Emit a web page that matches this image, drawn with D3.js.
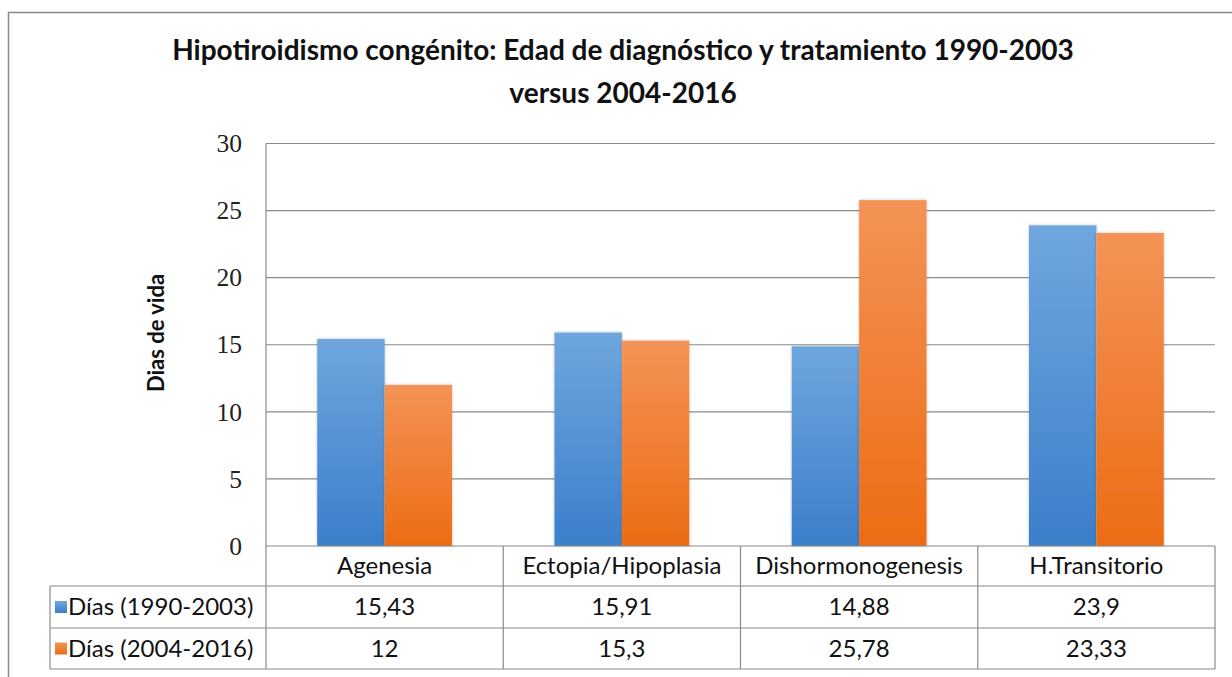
<!DOCTYPE html>
<html>
<head>
<meta charset="utf-8">
<script src="https://cdn.jsdelivr.net/npm/d3@7"></script>
<style>
body{margin:0;background:#fff;}
svg{display:block;font-family:Lato,"Open Sans",sans-serif;}
</style>
</head>
<body>
<svg id="chart" width="1232" height="677"></svg>
<script>
// data
const categories=["Agenesia","Ectopia/Hipoplasia","Dishormonogenesis","H.Transitorio"];
const seriesNames=["Días (1990-2003)","Días (2004-2016)"];
const dias1990=[15.43,15.91,14.88,23.9];
const dias2004=[12,15.3,25.78,23.33];
const yTicks=[0,5,10,15,20,25,30];
const titleLines=["Hipotiroidismo congénito: Edad de diagnóstico y tratamiento 1990-2003","versus 2004-2016"];

const svg=d3.select("#chart");
const W=1232,H=677;
const pLeft=266,pRight=1215,pTop=143.5,pBottom=546;
const rowH=[40,42,41];
const legLeft=50;

function fmt(v){return String(v).replace(".",",");}

// outer frame (cut by the picture edge)
svg.append("rect").attr("x",8.5).attr("y",12.5).attr("width",W).attr("height",H)
  .attr("fill","#fff").attr("stroke","#8c8c8c").attr("stroke-width",1.5);

const defs=svg.append("defs");
const grads=[["g0","#6fa6de","#3b7fca"],["g1","#f49356","#ec6c14"]];
grads.forEach(function(g){
  let lg=defs.append("linearGradient").attr("id",g[0]).attr("x1",0).attr("y1",0).attr("x2",0).attr("y2",1);
  lg.append("stop").attr("offset","0%").attr("stop-color",g[1]);
  lg.append("stop").attr("offset","100%").attr("stop-color",g[2]);
});
const f=defs.append("filter").attr("id","sh").attr("x","-10%").attr("y","-10%").attr("width","120%").attr("height","120%");
f.append("feDropShadow").attr("dx",0).attr("dy",0).attr("stdDeviation",1.5).attr("flood-color","#000").attr("flood-opacity",0.25);

const x=d3.scaleBand().domain(categories).range([pLeft,pRight]).paddingInner(0).paddingOuter(0);
const y=d3.scaleLinear().domain([0,30]).range([pBottom,pTop]);
const barW=67.4;

// gridlines
svg.append("g").selectAll("line").data(yTicks.filter(d=>d>0)).enter().append("line")
  .attr("x1",pLeft).attr("x2",pRight).attr("y1",d=>y(d)).attr("y2",d=>y(d))
  .attr("stroke","#8a8a8a").attr("stroke-width",1.2);

// y axis labels
const yAxis=d3.axisLeft(y).tickValues(yTicks).tickSize(0).tickPadding(24);
const ya=svg.append("g").attr("transform","translate("+pLeft+",0)").call(yAxis);
ya.select(".domain").remove();
ya.selectAll("text").attr("font-family","'Liberation Serif',serif").attr("font-size",25.5).attr("fill","#222");

// axis title
svg.append("text").attr("transform","translate(164,333) rotate(-90)")
  .attr("text-anchor","middle").attr("font-weight","bold").attr("font-size",22).attr("fill","#111")
  .text("Dias de vida");

// bars
const series=[dias1990,dias2004];
series.forEach(function(vals,si){
  svg.append("g").selectAll("rect").data(vals).enter().append("rect")
    .attr("x",(d,i)=>x(categories[i])+x.bandwidth()/2-barW+si*barW)
    .attr("width",barW)
    .attr("y",d=>y(d))
    .attr("height",d=>y(0)-y(d))
    .attr("fill","url(#g"+si+")")
    .attr("filter","url(#sh)");
});

// plot left border
svg.append("line").attr("x1",pLeft).attr("x2",pLeft).attr("y1",pTop).attr("y2",pBottom)
  .attr("stroke","#8a8a8a").attr("stroke-width",1.2);

// data table
const tg=svg.append("g").attr("stroke","#8a8a8a").attr("stroke-width",1.2);
const r0=pBottom,r1=r0+rowH[0],r2=r1+rowH[1],r3=r2+rowH[2];
tg.append("line").attr("x1",pLeft).attr("x2",pRight).attr("y1",r0).attr("y2",r0);
[r1,r2,r3].forEach(function(r){
  tg.append("line").attr("x1",legLeft).attr("x2",pRight).attr("y1",r).attr("y2",r);
});
tg.append("line").attr("x1",legLeft).attr("x2",legLeft).attr("y1",r1).attr("y2",r3);
categories.concat(["_end"]).forEach(function(c,i){
  let xx=i<categories.length?x(c):pRight;
  tg.append("line").attr("x1",xx).attr("x2",xx).attr("y1",r0).attr("y2",r3);
});

// header labels
svg.append("g").selectAll("text").data(categories).enter().append("text")
  .attr("x",d=>x(d)+x.bandwidth()/2).attr("y",(r0+r1)/2).attr("dy","0.35em")
  .attr("text-anchor","middle").attr("font-size",24).attr("fill","#111").text(d=>d);

// rows
const rowTops=[r1,r2];
const rowBots=[r2,r3];
series.forEach(function(vals,si){
  let cy=(rowTops[si]+rowBots[si])/2;
  svg.append("g").selectAll("text").data(vals).enter().append("text")
    .attr("x",(d,i)=>x(categories[i])+x.bandwidth()/2).attr("y",cy).attr("dy","0.35em")
    .attr("text-anchor","middle").attr("font-size",24).attr("fill","#111").text(d=>fmt(d));
  svg.append("rect").attr("x",55).attr("y",cy-6).attr("width",12).attr("height",12)
    .attr("fill","url(#g"+si+")");
  svg.append("text").attr("x",68).attr("y",cy).attr("dy","0.35em")
    .attr("font-size",24).attr("fill","#111").text(seriesNames[si]);
});

// title
svg.append("g").selectAll("text").data(titleLines).enter().append("text")
  .attr("x",623).attr("y",(d,i)=>60+i*43).attr("text-anchor","middle")
  .attr("font-size",28).attr("font-weight","bold").attr("fill","#111").text(d=>d);
</script>
</body>
</html>
